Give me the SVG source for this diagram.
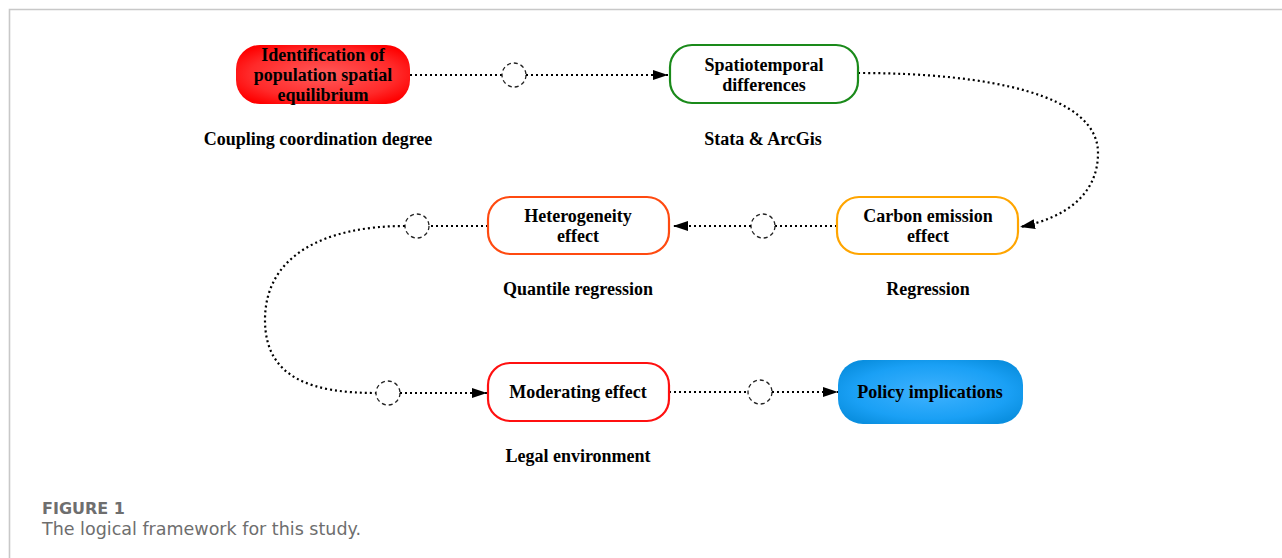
<svg xmlns="http://www.w3.org/2000/svg" width="1282" height="558" viewBox="0 0 1282 558">
<defs>
<style>
.node{stroke-width:2.2;fill:#fff}
.t{font-family:"Liberation Serif","Times New Roman",serif;font-weight:bold;font-size:18px;fill:#000;text-anchor:middle}
.edge{fill:none;stroke:#000;stroke-width:2.2;stroke-dasharray:2 3}
.ring{fill:#fff;stroke:#222;stroke-width:1.3;stroke-dasharray:4 3}
.cap{font-family:"DejaVu Sans","Noto Sans",sans-serif;fill:#6e6e6e}
</style>
<radialGradient id="gRed" cx="50%" cy="50%" r="60%">
<stop offset="0" stop-color="#ff5a5a"/>
<stop offset="0.7" stop-color="#ff2a2a"/>
<stop offset="1" stop-color="#ff0000"/>
</radialGradient>
<radialGradient id="gBlue" cx="50%" cy="50%" r="60%">
<stop offset="0" stop-color="#3fb2ff"/>
<stop offset="0.7" stop-color="#1aa0f5"/>
<stop offset="1" stop-color="#0a8fe0"/>
</radialGradient>
<marker id="arr" markerUnits="userSpaceOnUse" markerWidth="16" markerHeight="12" refX="15" refY="5" orient="auto">
<path d="M0,0 L15,5 L0,10 z" fill="#000"/>
</marker>
</defs>
<rect width="1282" height="558" fill="#fff"/>
<path d="M9.5,558 V9.5 H1282" fill="none" stroke="#c8c8c8" stroke-width="1.6"/>

<g id="connectors">
<path class="edge" d="M410,75 H502"/>
<circle class="ring" cx="514" cy="75" r="12"/>
<path class="edge" d="M526,75 H668" marker-end="url(#arr)"/>
<path class="edge" d="M858,73 C990,73 1098,95 1098,153 C1098,195 1065,218 1020,227" marker-end="url(#arr)"/>
<path class="edge" d="M837,226 H775"/>
<circle class="ring" cx="763" cy="226" r="12"/>
<path class="edge" d="M751,226 H673" marker-end="url(#arr)"/>
<path class="edge" d="M488,226 H429"/>
<circle class="ring" cx="417" cy="226" r="12"/>
<path class="edge" d="M405,226 C325,226 265,255 265,320 C265,380 315,393 376,393"/>
<circle class="ring" cx="388" cy="393" r="12"/>
<path class="edge" d="M400,393 H487" marker-end="url(#arr)"/>
<path class="edge" d="M669,392 H748"/>
<circle class="ring" cx="760" cy="392" r="12"/>
<path class="edge" d="M772,392 H838" marker-end="url(#arr)"/>
</g>

<g id="n-identification">
<rect x="236" y="45" width="174" height="59" rx="24" fill="url(#gRed)"/>
<text class="t" x="323" y="61">Identification of</text>
<text class="t" x="323" y="81">population spatial</text>
<text class="t" x="323" y="101">equilibrium</text>
</g>
<text id="l-coupling" class="t" x="318" y="145">Coupling coordination degree</text>

<g id="n-spatiotemporal">
<rect class="node" x="670" y="45" width="188" height="58" rx="22" stroke="#1a8a1a"/>
<text class="t" x="764" y="71">Spatiotemporal</text>
<text class="t" x="764" y="91">differences</text>
</g>
<text id="l-stata" class="t" x="763" y="145">Stata &amp; ArcGis</text>

<g id="n-carbon">
<rect class="node" x="837" y="197" width="181" height="57" rx="22" stroke="#ffa500"/>
<text class="t" x="928" y="222">Carbon emission</text>
<text class="t" x="928" y="242">effect</text>
</g>
<text id="l-regression" class="t" x="928" y="295">Regression</text>

<g id="n-heterogeneity">
<rect class="node" x="488" y="197" width="181" height="57" rx="22" stroke="#ff4a10"/>
<text class="t" x="578" y="222">Heterogeneity</text>
<text class="t" x="578" y="242">effect</text>
</g>
<text id="l-quantile" class="t" x="578" y="295">Quantile regression</text>

<g id="n-moderating">
<rect class="node" x="488" y="363" width="181" height="58" rx="22" stroke="#ff1010"/>
<text class="t" x="578" y="398">Moderating effect</text>
</g>
<text id="l-legal" class="t" x="578" y="462">Legal environment</text>

<g id="n-policy">
<rect x="838" y="360" width="185" height="64" rx="25" fill="url(#gBlue)"/>
<text class="t" x="930" y="398">Policy implications</text>
</g>

<text class="cap" x="42" y="514" font-size="16" font-weight="bold" fill="#666">FIGURE 1</text>
<text class="cap" x="42" y="535" font-size="17.5" fill="#7a7a7a">The logical framework for this study.</text>
</svg>
